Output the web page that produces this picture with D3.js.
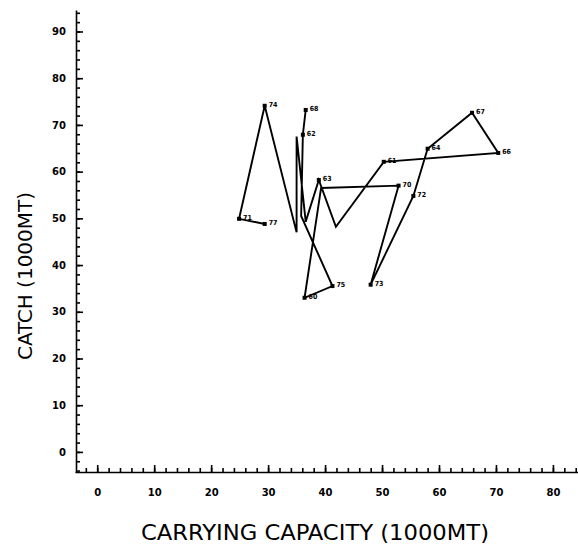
<!DOCTYPE html>
<html><head><meta charset="utf-8">
<script src="https://cdn.jsdelivr.net/npm/d3@7"></script>
<style>
html,body{margin:0;padding:0;background:#fff;}
svg{display:block;}
.tick text{font-family:"DejaVu Sans",sans-serif;font-weight:bold;font-size:10px;fill:#000;}
</style></head>
<body>
<script>
// Trajectory of (carrying capacity, catch) points in 1000 MT, in drawing order
const capacity = [29.4, 24.9, 29.4, 35.0, 35.0, 36.6, 38.9, 41.9, 50.3, 70.4, 65.8, 58.0, 55.5, 48.0, 52.9, 39.3, 36.4, 41.3, 35.8, 36.1, 36.6];
const catchVals = [48.8, 49.9, 74.1, 47.0, 67.5, 49.3, 58.2, 48.2, 62.1, 64.0, 72.6, 64.9, 54.8, 35.8, 57.0, 56.5, 33.0, 35.5, 50.5, 67.9, 73.2];
const pointLabels = ["77", "71", "74", "", "", "", "63", "", "61", "66", "67", "64", "72", "73", "70", "", "60", "75", "", "62", "68"];
const xTickLabels = [0, 10, 20, 30, 40, 50, 60, 70, 80];
const yTickLabels = [0, 10, 20, 30, 40, 50, 60, 70, 80, 90];
const xTitle = "CARRYING CAPACITY (1000MT)";
const yTitle = "CATCH (1000MT)";

const W = 578, H = 548;
const svg = d3.select("body").append("svg").attr("width", W).attr("height", H);

const x = d3.scaleLinear().domain([-3.9, 84.4]).range([75, 578]);
const y = d3.scaleLinear().domain([-4.3, 94.6]).range([472, 10]);

// X axis: minor ticks
svg.append("g").attr("transform", "translate(0,472)")
  .call(d3.axisBottom(x).tickValues(d3.range(-2, 85, 2)).tickSize(-4).tickSizeOuter(0).tickFormat(""))
  .call(g => g.selectAll("line,path").attr("stroke", "#000").attr("stroke-width", 1.6));
// X axis: major ticks
svg.append("g").attr("transform", "translate(0,472)")
  .call(d3.axisBottom(x).tickValues(xTickLabels).tickSize(-7).tickSizeOuter(0).tickPadding(17))
  .call(g => g.select(".domain").remove())
  .call(g => g.selectAll("line").attr("stroke", "#000").attr("stroke-width", 1.6));

// Y axis: minor ticks
svg.append("g").attr("transform", "translate(76,0)")
  .call(d3.axisLeft(y).tickValues(d3.range(-4, 95, 2)).tickSize(-4).tickSizeOuter(0).tickFormat(""))
  .call(g => g.selectAll("line,path").attr("stroke", "#000").attr("stroke-width", 1.6));
// Y axis: major ticks
svg.append("g").attr("transform", "translate(76,0)")
  .call(d3.axisLeft(y).tickValues(yTickLabels).tickSize(-7).tickSizeOuter(0).tickPadding(10))
  .call(g => g.select(".domain").remove())
  .call(g => g.selectAll("line").attr("stroke", "#000").attr("stroke-width", 1.6));

// Titles
svg.append("text")
  .attr("x", 315).attr("y", 540).attr("text-anchor", "middle").attr("fill", "#000")
  .attr("font-family", "DejaVu Sans Condensed, DejaVu Sans, sans-serif").attr("font-size", 22)
  .attr("textLength", 348).attr("lengthAdjust", "spacingAndGlyphs")
  .text(xTitle);
svg.append("text")
  .attr("transform", "translate(32,276) rotate(-90)").attr("text-anchor", "middle").attr("fill", "#000")
  .attr("font-family", "DejaVu Sans Condensed, DejaVu Sans, sans-serif").attr("font-size", 19)
  .attr("textLength", 168).attr("lengthAdjust", "spacingAndGlyphs")
  .text(yTitle);

// Data
const pts = capacity.map((c, i) => ({c, v: catchVals[i], lab: pointLabels[i]}));
const line = d3.line().x(d => x(d.c)).y(d => y(d.v));
svg.append("path").datum(pts).attr("d", line)
  .attr("fill", "none").attr("stroke", "#000").attr("stroke-width", 1.9).attr("stroke-linejoin", "miter");

svg.selectAll("rect.pt").data(pts.filter(d => d.lab)).join("rect").attr("class", "pt")
  .attr("x", d => x(d.c) - 2).attr("y", d => y(d.v) - 2).attr("width", 4).attr("height", 4).attr("fill", "#000");

svg.selectAll("text.lab").data(pts.filter(d => d.lab)).join("text").attr("class", "lab")
  .attr("x", d => x(d.c) + 4).attr("y", d => y(d.v) + 1).attr("fill", "#000")
  .attr("font-family", "DejaVu Sans Condensed, DejaVu Sans, sans-serif").attr("font-weight", "bold").attr("font-size", 7)
  .text(d => d.lab);
</script>
</body></html>
